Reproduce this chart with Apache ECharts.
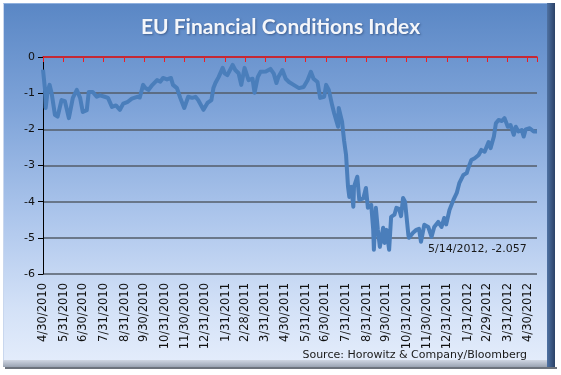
<!DOCTYPE html>
<html>
<head>
<meta charset="utf-8">
<script src="https://cdn.jsdelivr.net/npm/echarts@6/dist/echarts.min.js"></script>
<style>
  html, body { margin: 0; padding: 0; background: #fff; }
  .wrap { position: relative; width: 561px; height: 375px; overflow: hidden; }
  .frame {
    position: absolute; left: 3px; top: 3px; width: 544px; height: 357px;
    background: linear-gradient(to bottom, #5a87c5 0%, #7fa4d9 30%, #adc6ec 60%, #d3e1f7 85%, #e3ecfb 100%);
    border-top: 1px solid #8fb0de;
    border-left: 1px solid #c9d7ee;
  }
  .bevel-r {
    position: absolute; left: 547px; top: 3px; width: 8px; height: 364px;
    background: linear-gradient(to right, #4f72a3, #2b4267);
  }
  .bevel-b {
    position: absolute; left: 3px; top: 360px; width: 544px; height: 7px;
    background: linear-gradient(to bottom, #cfd6e2, #9aa3b2);
  }
  .shadow {
    position: absolute; left: 5px; top: 367px; width: 552px; height: 2px;
    background: #6d737c;
  }
  #chart { position: absolute; left: 0; top: 0; width: 561px; height: 375px; }
</style>
</head>
<body>
<div class="wrap">
  <div class="frame"></div>
  <div class="bevel-r"></div>
  <div class="bevel-b"></div>
  <div class="shadow"></div>
  <div id="chart"></div>
</div>
<script>
// EU FCI readings (date, index)
const dates = [
  '2010-04-30','2010-05-03','2010-05-04','2010-05-07','2010-05-10','2010-05-13','2010-05-18','2010-05-22','2010-05-28',
  '2010-06-02','2010-06-08','2010-06-14','2010-06-20','2010-06-25','2010-06-29',
  '2010-07-05','2010-07-08','2010-07-14','2010-07-20','2010-07-25',
  '2010-08-01','2010-08-06','2010-08-12','2010-08-18','2010-08-24','2010-08-29',
  '2010-09-04','2010-09-11','2010-09-19','2010-09-23','2010-09-28',
  '2010-10-01','2010-10-06','2010-10-12','2010-10-19','2010-10-24','2010-10-28',
  '2010-11-03','2010-11-09','2010-11-12','2010-11-18','2010-11-23','2010-11-29',
  '2010-12-05','2010-12-11','2010-12-16','2010-12-20','2010-12-28',
  '2011-01-03','2011-01-09','2011-01-12','2011-01-15','2011-01-20','2011-01-26','2011-01-29',
  '2011-02-02','2011-02-10','2011-02-14','2011-02-19','2011-02-23','2011-02-28',
  '2011-03-06','2011-03-12','2011-03-15','2011-03-20','2011-03-24',
  '2011-04-01','2011-04-08','2011-04-13','2011-04-17','2011-04-20','2011-04-26',
  '2011-05-01','2011-05-06','2011-05-13','2011-05-21','2011-05-28',
  '2011-06-03','2011-06-08','2011-06-12','2011-06-18','2011-06-22','2011-06-28',
  '2011-07-01','2011-07-05','2011-07-10','2011-07-13','2011-07-19','2011-07-20','2011-07-25','2011-07-28','2011-07-31',
  '2011-08-03','2011-08-05','2011-08-08','2011-08-11','2011-08-12','2011-08-17','2011-08-20','2011-08-26','2011-08-30',
  '2011-09-02','2011-09-07','2011-09-10','2011-09-11','2011-09-14','2011-09-17','2011-09-20','2011-09-25','2011-09-27','2011-09-30',
  '2011-10-04','2011-10-07','2011-10-12','2011-10-15','2011-10-19','2011-10-22','2011-10-25','2011-10-28',
  '2011-11-02','2011-11-03','2011-11-09','2011-11-14','2011-11-18','2011-11-21','2011-11-26',
  '2011-12-02','2011-12-07','2011-12-11','2011-12-17','2011-12-22','2011-12-26','2011-12-29',
  '2012-01-03','2012-01-09','2012-01-14','2012-01-18','2012-01-24','2012-01-29',
  '2012-02-01','2012-02-05','2012-02-10','2012-02-16','2012-02-20','2012-02-25',
  '2012-03-02','2012-03-05','2012-03-10','2012-03-13','2012-03-17','2012-03-22','2012-03-26','2012-03-31',
  '2012-04-04','2012-04-09','2012-04-12','2012-04-16','2012-04-21','2012-04-24','2012-04-27',
  '2012-05-03','2012-05-09','2012-05-14'
];
const fci = [
  -0.35,-0.9,-1.41,-0.95,-0.77,-1.0,-1.6,-1.65,-1.19,
  -1.22,-1.69,-1.13,-0.91,-1.13,-1.52,
  -1.47,-0.97,-0.97,-1.1,-1.06,
  -1.1,-1.13,-1.38,-1.34,-1.46,-1.29,
  -1.25,-1.15,-1.1,-1.12,-0.77,
  -0.85,-0.91,-0.77,-0.64,-0.68,-0.58,
  -0.62,-0.58,-0.77,-0.86,-1.13,-1.41,
  -1.1,-1.13,-1.1,-1.19,-1.46,
  -1.27,-1.19,-0.86,-0.72,-0.55,-0.3,-0.45,
  -0.5,-0.22,-0.36,-0.45,-0.77,-0.3,
  -0.64,-0.6,-0.99,-0.55,-0.41,
  -0.4,-0.33,-0.46,-0.72,-0.55,-0.36,
  -0.6,-0.69,-0.77,-0.86,-0.83,
  -0.64,-0.41,-0.6,-0.69,-1.13,-1.1,
  -0.77,-0.91,-1.33,-1.55,-1.93,-1.41,-1.79,-2.3,-2.7,
  -3.59,-3.87,-3.59,-4.14,-3.59,-3.31,-3.95,-3.91,-3.62,
  -4.17,-4.09,-4.78,-5.33,-4.17,-4.78,-5.25,-4.72,-5.14,-4.78,
  -5.33,-4.42,-4.36,-4.17,-4.2,-4.4,-3.9,-4.0,
  -4.92,-5.0,-4.86,-4.78,-4.75,-5.11,-4.64,
  -4.7,-4.97,-4.7,-4.56,-4.7,-4.45,-4.63,
  -4.23,-3.95,-3.76,-3.48,-3.26,-3.21,
  -3.04,-2.85,-2.8,-2.71,-2.57,-2.62,
  -2.35,-2.52,-2.2,-1.83,-1.74,-1.77,-1.69,-1.93,
  -1.88,-2.15,-1.93,-2.06,-2.02,-2.2,-2.0,
  -1.97,-2.06,-2.057
];
// month-end tick labels
const monthEnds = [
  '2010-04-30','2010-05-31','2010-06-30','2010-07-31','2010-08-31','2010-09-30','2010-10-31','2010-11-30','2010-12-31',
  '2011-01-31','2011-02-28','2011-03-31','2011-04-30','2011-05-31','2011-06-30','2011-07-31','2011-08-31','2011-09-30',
  '2011-10-31','2011-11-30','2011-12-31','2012-01-31','2012-02-29','2012-03-31','2012-04-30'
];
const lastLabel = '5/14/2012, -2.057';

function ts(s) {
    const p = s.split('-').map(Number);
    return Date.UTC(p[0], p[1] - 1, p[2]);
}
function fmt(v) {
    const d = new Date(v);
    return (d.getUTCMonth() + 1) + '/' + d.getUTCDate() + '/' + d.getUTCFullYear();
}

const tickValues = monthEnds.map(ts);
const font = 'DejaVu Sans';
const xMin = ts(dates[0]);
const xMax = ts(dates[dates.length - 1]);
// top axis counts months from the first month-end, so its ticks land on month ends
const nMonths = monthEnds.length - 1;
const monthSpan = (xMax - xMin) / (tickValues[nMonths] - tickValues[0]) * nMonths;

const chart = echarts.init(document.getElementById('chart'), null, { renderer: 'canvas' });
chart.setOption({
    backgroundColor: 'transparent',
    animation: false,
    title: {
        text: 'EU Financial Conditions Index',
        left: 'center',
        top: 12,
        textStyle: {
            color: '#f4f6fa',
            fontFamily: 'Lato',
            fontWeight: 'bold',
            fontSize: 21,
            textShadowColor: 'rgba(30,50,90,0.5)',
            textShadowBlur: 2,
            textShadowOffsetX: 1,
            textShadowOffsetY: 1
        }
    },
    grid: { left: 43, right: 24, top: 57, bottom: 101, containLabel: false },
    xAxis: [{
        type: 'value',
        position: 'bottom',
        min: xMin,
        max: xMax,
        axisLine: { show: false },
        axisTick: { show: false },
        splitLine: { show: false },
        axisLabel: {
            customValues: tickValues,
            formatter: fmt,
            rotate: 90,
            margin: 9,
            color: '#111',
            fontFamily: font,
            fontSize: 11.5
        }
    }, {
        type: 'value',
        position: 'top',
        min: 0,
        max: monthSpan,
        interval: 1,
        axisLine: { show: true, onZero: false, lineStyle: { color: '#e8151b', width: 1.5 } },
        axisTick: { show: true, inside: true, length: 5, lineStyle: { color: '#ee1c22', width: 1 } },
        axisLabel: { show: false },
        splitLine: { show: false }
    }],
    yAxis: {
        type: 'value',
        min: -6,
        max: 0,
        interval: 1,
        axisLine: { show: true, onZero: false, lineStyle: { color: '#000', width: 1 } },
        axisTick: { show: true, length: 5, lineStyle: { color: '#000' } },
        axisLabel: { color: '#111', fontFamily: font, fontSize: 11, margin: 8 },
        splitLine: { show: true, lineStyle: { color: '#535c69', width: 1.5 } }
    },
    series: [{
        type: 'line',
        xAxisIndex: 0,
        data: dates.map((d, i) => [ts(d), fci[i]]),
        showSymbol: false,
        symbol: 'none',
        lineStyle: { color: '#4a7ebb', width: 4, join: 'round' },
        z: 3
    }],
    graphic: [{
        type: 'text',
        left: 428,
        top: 244,
        style: { text: lastLabel, fill: '#1a1a1a', font: '11px "DejaVu Sans"' }
    }, {
        type: 'text',
        right: 34,
        top: 350,
        style: { text: 'Source: Horowitz & Company/Bloomberg', fill: '#1a1a1a', font: '11px "DejaVu Sans"' }
    }]
});
</script>
</body>
</html>
